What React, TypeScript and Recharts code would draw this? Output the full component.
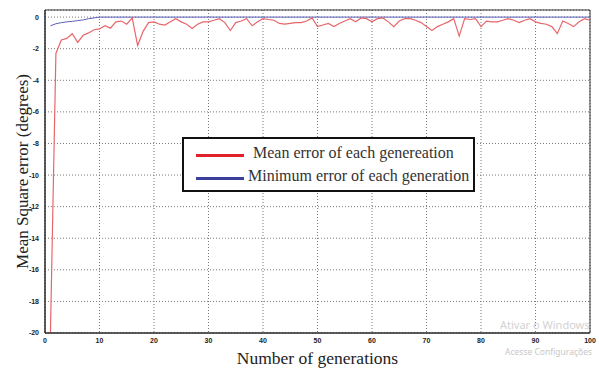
import {
  LineChart,
  Line,
  XAxis,
  YAxis,
  CartesianGrid,
  ReferenceArea,
} from "recharts";

const generations = [
  1, 2, 3, 4, 5, 6, 7, 8, 9, 10, 11, 12, 13, 14, 15, 16, 17, 18, 19, 20,
  21, 22, 23, 24, 25, 26, 27, 28, 29, 30, 31, 32, 33, 34, 35, 36, 37, 38, 39, 40,
  41, 42, 43, 44, 45, 46, 47, 48, 49, 50, 51, 52, 53, 54, 55, 56, 57, 58, 59, 60,
  61, 62, 63, 64, 65, 66, 67, 68, 69, 70, 71, 72, 73, 74, 75, 76, 77, 78, 79, 80,
  81, 82, 83, 84, 85, 86, 87, 88, 89, 90, 91, 92, 93, 94, 95, 96, 97, 98, 99, 100,
];

const meanError = [
  -20, -2.3, -1.45, -1.35, -1.05, -1.6, -1.15, -1.0, -0.8, -0.75,
  -0.55, -0.7, -0.3, -0.25, -0.45, -0.05, -1.8, -0.9, -0.35, -0.3,
  -0.45, -0.5, -0.3, -0.1, -0.3, -0.45, -0.72, -0.45, -0.3, -0.3,
  -0.2, -0.1, -0.35, -0.85, -0.35, -0.25, -0.1, -0.55, -0.3, -0.1,
  -0.15, -0.2, -0.4, -0.45, -0.4, -0.35, -0.35, -0.25, -0.05, -0.6,
  -0.5, -0.4, -0.6, -0.4, -0.25, -0.1, -0.3, -0.05, -0.1, -0.3,
  -0.1, -0.05, -0.3, -0.6, -0.25, -0.1, -0.1, -0.2, -0.35, -0.6,
  -0.85, -0.6, -0.45, -0.3, -0.1, -1.2, -0.1, -0.15, -0.1, -0.6,
  -0.25, -0.3, -0.3, -0.2, -0.1, -0.2, -0.35, -0.2, -0.1, -0.3,
  -0.4, -0.45, -0.6, -1.05, -0.25, -0.4, -0.6, -0.3, -0.1, -0.2,
];

const minError = [
  -0.55, -0.42, -0.35, -0.3, -0.27, -0.22, -0.18, -0.1, -0.05, 0,
  0, 0, 0, 0, 0, 0, 0, 0, 0, 0,
  0, 0, 0, 0, 0, 0, 0, 0, 0, 0,
  0, 0, 0, 0, 0, 0, 0, 0, 0, 0,
  0, 0, 0, 0, 0, 0, 0, 0, 0, 0,
  0, 0, 0, 0, 0, 0, 0, 0, 0, 0,
  0, 0, 0, 0, 0, 0, 0, 0, 0, 0,
  0, 0, 0, 0, 0, 0, 0, 0, 0, 0,
  0, 0, 0, 0, 0, 0, 0, 0, 0, 0,
  0, 0, 0, 0, 0, 0, 0, 0, 0, 0,
];

const xTicks = [0, 10, 20, 30, 40, 50, 60, 70, 80, 90, 100];
const yTicks = [0, -2, -4, -6, -8, -10, -12, -14, -16, -18, -20];

const data = generations.map((g, i) => ({
  gen: g,
  mean: meanError[i],
  min: minError[i],
}));

const serif = "'Liberation Serif', 'Times New Roman', serif";
const tickStyle = {
  fontSize: 7,
  fontWeight: 700,
  fill: "#222",
  fontFamily: "'Liberation Sans', Arial, sans-serif",
};

// legend drawn as an overlay so it doesn't eat plot height
function LegendBox() {
  return (
    <div
      style={{
        position: "absolute",
        left: 182,
        top: 137,
        width: 289,
        height: 51,
        border: "2.5px solid #111",
        background: "#fff",
        overflow: "hidden",
        fontFamily: serif,
        fontSize: 16,
        color: "#333",
      }}
    >
      <div
        style={{
          position: "absolute",
          left: 12,
          top: 15,
          width: 48,
          height: 3,
          background: "#e0202a",
        }}
      />
      <div style={{ position: "absolute", left: 69, top: 5, whiteSpace: "nowrap" }}>
        Mean error of each genereation
      </div>
      <div
        style={{
          position: "absolute",
          left: 12,
          top: 38,
          width: 48,
          height: 3,
          background: "#3a3f9a",
        }}
      />
      <div style={{ position: "absolute", left: 64, top: 28, whiteSpace: "nowrap" }}>
        Minimum error of each generation
      </div>
    </div>
  );
}

export default function App() {
  return (
    <div style={{ position: "absolute", left: 0, top: 0, width: 599, height: 369, background: "#fff" }}>
      <LineChart
        width={599}
        height={369}
        data={data}
        margin={{ top: 10, right: 9, left: 0, bottom: 0 }}
      >
        <CartesianGrid stroke="#777" strokeDasharray="1 2" />
        <XAxis
          dataKey="gen"
          type="number"
          domain={[0, 100]}
          ticks={xTicks}
          height={36}
          tick={tickStyle}
          tickSize={4}
          tickMargin={1}
          tickLine={false}
          axisLine={{ stroke: "#222" }}
          label={{
            value: "Number of generations",
            position: "insideBottom",
            offset: 5,
            style: { fontFamily: serif, fontSize: 17.5, fill: "#222" },
          }}
        />
        <YAxis
          type="number"
          domain={[-20, 0.45]}
          ticks={yTicks}
          width={45}
          tick={tickStyle}
          tickSize={4}
          tickMargin={2}
          tickLine={false}
          axisLine={{ stroke: "#222" }}
          allowDataOverflow
          label={{
            value: "Mean Square error (degrees)",
            angle: -90,
            position: "center",
            dx: -1,
            style: { fontFamily: serif, fontSize: 17, fill: "#222", textAnchor: "middle" },
          }}
        />
        <ReferenceArea
          x1={0}
          x2={100}
          y1={-20}
          y2={0.45}
          fill="none"
          stroke="#333"
          strokeWidth={1}
          ifOverflow="visible"
        />
        <Line
          type="linear"
          dataKey="min"
          stroke="#5a5fb8"
          strokeWidth={1}
          dot={false}
          isAnimationActive={false}
        />
        <Line
          type="linear"
          dataKey="mean"
          stroke="#e8666a"
          strokeWidth={1.2}
          dot={false}
          isAnimationActive={false}
        />
      </LineChart>
      <LegendBox />
      <div
        style={{
          position: "absolute",
          left: 500,
          top: 318,
          color: "#d2d2d2",
          fontFamily: "'Noto Sans', sans-serif",
          fontSize: 11,
          lineHeight: "14px",
          whiteSpace: "nowrap",
        }}
      >
        Ativar o Windows
      </div>
      <div
        style={{
          position: "absolute",
          left: 505,
          top: 346,
          color: "#c8c8c8",
          fontFamily: "'Noto Sans', sans-serif",
          fontSize: 8.5,
          lineHeight: "11px",
          whiteSpace: "nowrap",
        }}
      >
        Acesse Configurações
      </div>
    </div>
  );
}
